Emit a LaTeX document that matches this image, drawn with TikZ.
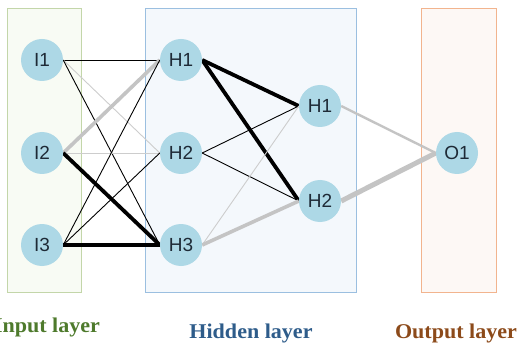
\documentclass[tikz,border=0pt]{standalone}
\usepackage{fontspec}
\setmainfont{Liberation Sans}
\newfontfamily\labelfont{Liberation Serif}
\definecolor{nodeblue}{HTML}{ADD8E6}
\definecolor{nodetext}{HTML}{1E2A36}
\definecolor{inFill}{HTML}{F8FBF4}
\definecolor{inLine}{HTML}{C3D6A9}
\definecolor{hidFill}{HTML}{F4F8FC}
\definecolor{hidLine}{HTML}{9BBFE0}
\definecolor{outFill}{HTML}{FDF8F5}
\definecolor{outLine}{HTML}{F2B48E}
\definecolor{inText}{HTML}{4E7A2C}
\definecolor{hidText}{HTML}{2E5C8A}
\definecolor{outText}{HTML}{8C4A1A}
\definecolor{wgray}{HTML}{C4C4C4}
\definecolor{lgray}{HTML}{CDCDCD}
\pgfdeclarelayer{boxes}
\pgfdeclarelayer{edges}
\pgfsetlayers{boxes,edges,main}
\tikzset{
  neuron/.style={circle, fill=nodeblue, minimum size=42pt, inner sep=0pt,
    font=\fontsize{19}{19}\selectfont, text=nodetext},
  layerbox/.style={line width=1pt},
  layerlabel/.style={anchor=base, inner sep=0pt},
  thinblack/.style={draw=black, line width=0.9pt},
  thickblack/.style={draw=black, line width=3.8pt},
  thinlight/.style={draw=lgray, line width=0.9pt},
  thickgray/.style={draw=wgray, line width=3.6pt},
  midgray/.style={draw=wgray, line width=2.4pt},
  heavygray/.style={draw=wgray, line width=5pt}
}
\newcommand{\lbl}[1]{\scalebox{1.05}[1]{\labelfont\bfseries\fontsize{21}{22}\selectfont #1}}
\begin{document}
\begin{tikzpicture}[x=1pt,y=-1pt]
\useasboundingbox (0,0) rectangle (518,347);
% layer boxes
\begin{pgfonlayer}{boxes}
\draw[layerbox, draw=inLine, fill=inFill] (7,9) rectangle (81,292);
\draw[layerbox, draw=hidLine, fill=hidFill] (145,9) rectangle (356,292);
\draw[layerbox, draw=outLine, fill=outFill] (421,9) rectangle (496,292);
\end{pgfonlayer}
% nodes
\node[neuron] (i1) at (42,60) {I1};
\node[neuron] (i2) at (42,153) {I2};
\node[neuron] (i3) at (42,245) {I3};
\node[neuron] (h1) at (181,60) {H1};
\node[neuron] (h2) at (181,153) {H2};
\node[neuron] (h3) at (181,245) {H3};
\node[neuron] (g1) at (320,106) {H1};
\node[neuron] (g2) at (320,201) {H2};
\node[neuron] (o1) at (457,153) {O1};
% connectors
\begin{pgfonlayer}{edges}
\path[thinblack] (i1.east) -- (h1.west);
\path[thinlight] (i1.east) -- (h2.west);
\path[thinblack] (i1.east) -- (h3.west);
\path[thickgray] (i2.east) -- (h1.west);
\path[thinlight] (i2.east) -- (h2.west);
\path[thickblack] (i2.east) -- (h3.west);
\path[thinblack] (i3.east) -- (h1.west);
\path[thinblack] (i3.east) -- (h2.west);
\path[thickblack] (i3.east) -- (h3.west);
\path[thickblack] (h1.east) -- (g1.west);
\path[thickblack] (h1.east) -- (g2.west);
\path[thinblack] (h2.east) -- (g1.west);
\path[thinblack] (h2.east) -- (g2.west);
\path[thinlight] (h3.east) -- (g1.west);
\path[thickgray] (h3.east) -- (g2.west);
\path[midgray] (g1.east) -- (o1.west);
\path[heavygray] (g2.east) -- (o1.west);
\end{pgfonlayer}
% labels
\node[layerlabel, text=inText] (lin) at (47,332) {\lbl{Input layer}};
\node[layerlabel, text=hidText] (lhid) at (251,338) {\lbl{Hidden layer}};
\node[layerlabel, text=outText] (lout) at (456,338) {\lbl{Output layer}};
\end{tikzpicture}
\end{document}
